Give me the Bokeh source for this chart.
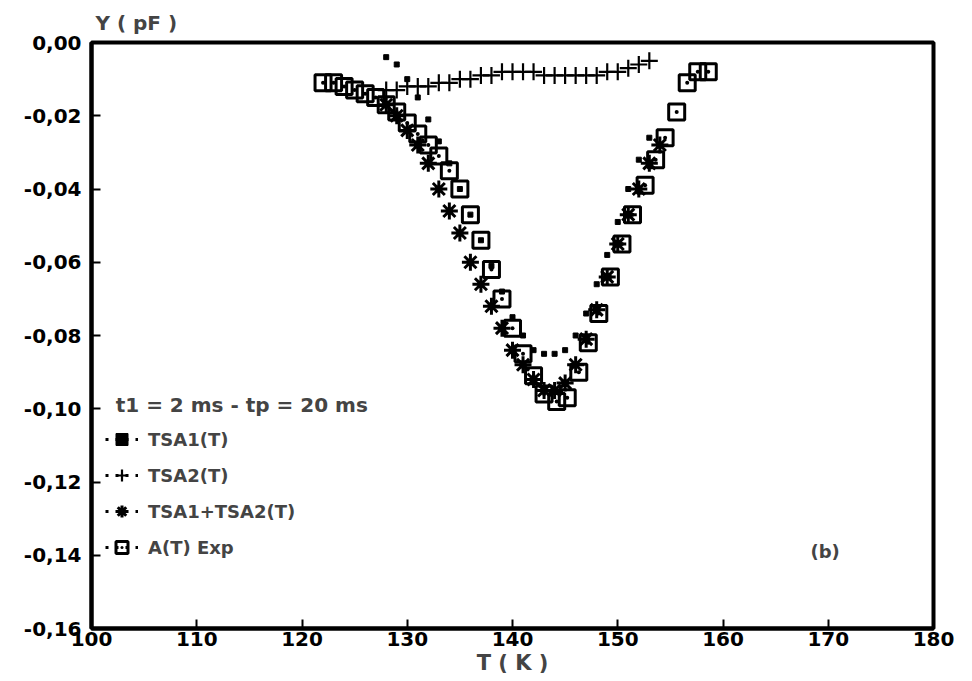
from bokeh.plotting import figure
from bokeh.models import (Range1d, FixedTicker, CustomJSTickFormatter, Legend,
                          LegendItem, Label, ColumnDataSource)
from bokeh.embed import file_html
from bokeh.resources import INLINE

# ---- data ----
t_exp = [122, 123, 124, 125, 126, 127, 128, 129, 130, 131, 132, 133, 134, 135,
         136, 137, 138, 139, 140, 141, 142, 143, 144.2, 145.2, 146.3, 147.2,
         148.2, 149.3, 150.4, 151.4, 152.6, 153.6, 154.5, 155.6, 156.6, 157.6,
         158.6]
y_exp = [-0.011, -0.011, -0.012, -0.013, -0.014, -0.015, -0.017, -0.019, -0.022,
         -0.025, -0.028, -0.031, -0.035, -0.040, -0.047, -0.054, -0.062, -0.070,
         -0.078, -0.085, -0.091, -0.096, -0.098, -0.097, -0.090, -0.082, -0.074,
         -0.064, -0.055, -0.047, -0.039, -0.032, -0.026, -0.019, -0.011, -0.008,
         -0.008]

t_sum = [128, 129, 130, 131, 132, 133, 134, 135, 136, 137, 138, 139, 140, 141,
         142, 143, 144, 145, 146, 147, 148, 149, 150, 151, 152, 153, 154]
y_sum = [-0.017, -0.020, -0.024, -0.028, -0.033, -0.040, -0.046, -0.052, -0.060,
         -0.066, -0.072, -0.078, -0.084, -0.088, -0.092, -0.095, -0.095, -0.093,
         -0.088, -0.081, -0.073, -0.064, -0.055, -0.047, -0.040, -0.033, -0.028]

t_tsa2 = [128, 129, 130, 131, 132, 133, 134, 135, 136, 137, 138, 139, 140, 141,
          142, 143, 144, 145, 146, 147, 148, 149, 150, 151, 152, 153]
y_tsa2 = [-0.013, -0.013, -0.012, -0.012, -0.012, -0.011, -0.011, -0.010, -0.010,
          -0.009, -0.009, -0.008, -0.008, -0.008, -0.008, -0.009, -0.009, -0.009,
          -0.009, -0.009, -0.009, -0.008, -0.008, -0.007, -0.006, -0.005]

t_tsa1 = [128, 129, 130, 131, 132, 133, 134, 135, 136, 137, 138, 139, 140, 141,
          142, 143, 144, 145, 146, 147, 148, 149, 150, 151, 152, 153]
y_tsa1 = [-0.004, -0.006, -0.010, -0.015, -0.021, -0.027, -0.033, -0.040, -0.047,
          -0.054, -0.061, -0.068, -0.075, -0.080, -0.084, -0.085, -0.085, -0.084,
          -0.080, -0.074, -0.066, -0.058, -0.049, -0.040, -0.032, -0.026]

x_ticks = [100, 110, 120, 130, 140, 150, 160, 170, 180]
y_ticks = [-0.16, -0.14, -0.12, -0.10, -0.08, -0.06, -0.04, -0.02, 0.0]

legend_title = "t1 = 2 ms - tp = 20 ms"
labels = ["TSA1(T)", "TSA2(T)", "TSA1+TSA2(T)", "A(T) Exp"]

FONT = "DejaVu Sans"

p = figure(frame_width=842, frame_height=586,
           min_border_left=91, min_border_right=31, min_border_top=42,
           min_border_bottom=45,
           x_range=Range1d(100, 180), y_range=Range1d(-0.16, 0.0),
           output_backend="svg", toolbar_location=None,
           background_fill_color="white", border_fill_color="white")
p.grid.visible = False
p.outline_line_color = "black"
p.outline_line_width = 4

p.title.text = "Y ( pF )"
p.title.align = "left"
p.title.text_font = FONT
p.title.text_font_style = "bold"
p.title.text_font_size = "20px"
p.title.offset = 4
p.title.standoff = 16

for ax in (p.xaxis[0], p.yaxis[0]):
    ax.axis_line_width = 4
    ax.major_tick_line_width = 2
    ax.major_tick_in = 9
    ax.major_tick_out = 0
    ax.minor_tick_line_color = None
    ax.major_label_text_font = FONT
    ax.major_label_text_font_style = "bold"
    ax.major_label_text_font_size = "20px"
    ax.major_label_text_color = "black"

p.xaxis.ticker = FixedTicker(ticks=x_ticks)
p.yaxis.ticker = FixedTicker(ticks=y_ticks)
p.yaxis.formatter = CustomJSTickFormatter(
    code="var s = tick.toFixed(2).replace('.', ','); return s === '-0,00' ? '0,00' : s;")
p.xaxis.major_label_standoff = 3
p.yaxis.major_label_standoff = 10
p.xaxis.axis_label = "T ( K )"
p.xaxis.axis_label_text_font = FONT
p.xaxis.axis_label_text_font_style = "bold"
p.xaxis.axis_label_text_font_size = "21px"
p.xaxis.axis_label_standoff = 2

r_exp = p.scatter(t_exp, y_exp, marker="square_dot", size=16, line_width=3,
                  line_color="black", fill_alpha=0)
r_sum = p.scatter(t_sum, y_sum, marker="asterisk", size=17, line_width=3,
                  line_color="black")
r_tsa2 = p.scatter(t_tsa2, y_tsa2, marker="cross", size=17, line_width=2.2,
                   line_color="black")
r_tsa1 = p.scatter(t_tsa1, y_tsa1, marker="square", size=5, line_color="black",
                   fill_color="black")

# dotted legend lines (no visible data)
nan = float("nan")
dots = []
for _ in range(4):
    src = ColumnDataSource(data=dict(x=[nan, nan], y=[nan, nan]))
    dots.append(p.line("x", "y", source=src, line_color="black", line_width=3,
                       line_dash="3 7"))

items = [LegendItem(label=labels[0], renderers=[dots[0], r_tsa1]),
         LegendItem(label=labels[1], renderers=[dots[1], r_tsa2]),
         LegendItem(label=labels[2], renderers=[dots[2], r_sum]),
         LegendItem(label=labels[3], renderers=[dots[3], r_exp])]
leg = Legend(items=items, location=(14, 66),
             label_text_font=FONT, label_text_font_style="bold",
             label_text_font_size="18px", glyph_width=33, glyph_height=30,
             label_height=30, spacing=6, padding=0, margin=0,
             border_line_color=None, background_fill_alpha=0,
             label_standoff=10)
p.add_layout(leg, "center")

p.add_layout(Label(x=102.3, y=-0.0991, text=legend_title, text_font=FONT,
                   text_font_style="bold", text_font_size="20px",
                   text_align="left", text_baseline="middle"))

p.add_layout(Label(x=169.7, y=-0.139, text="(b)", text_font=FONT,
                   text_font_style="bold", text_font_size="18px",
                   text_align="center", text_baseline="middle"))

open("out.html", "w").write(file_html(p, INLINE))
